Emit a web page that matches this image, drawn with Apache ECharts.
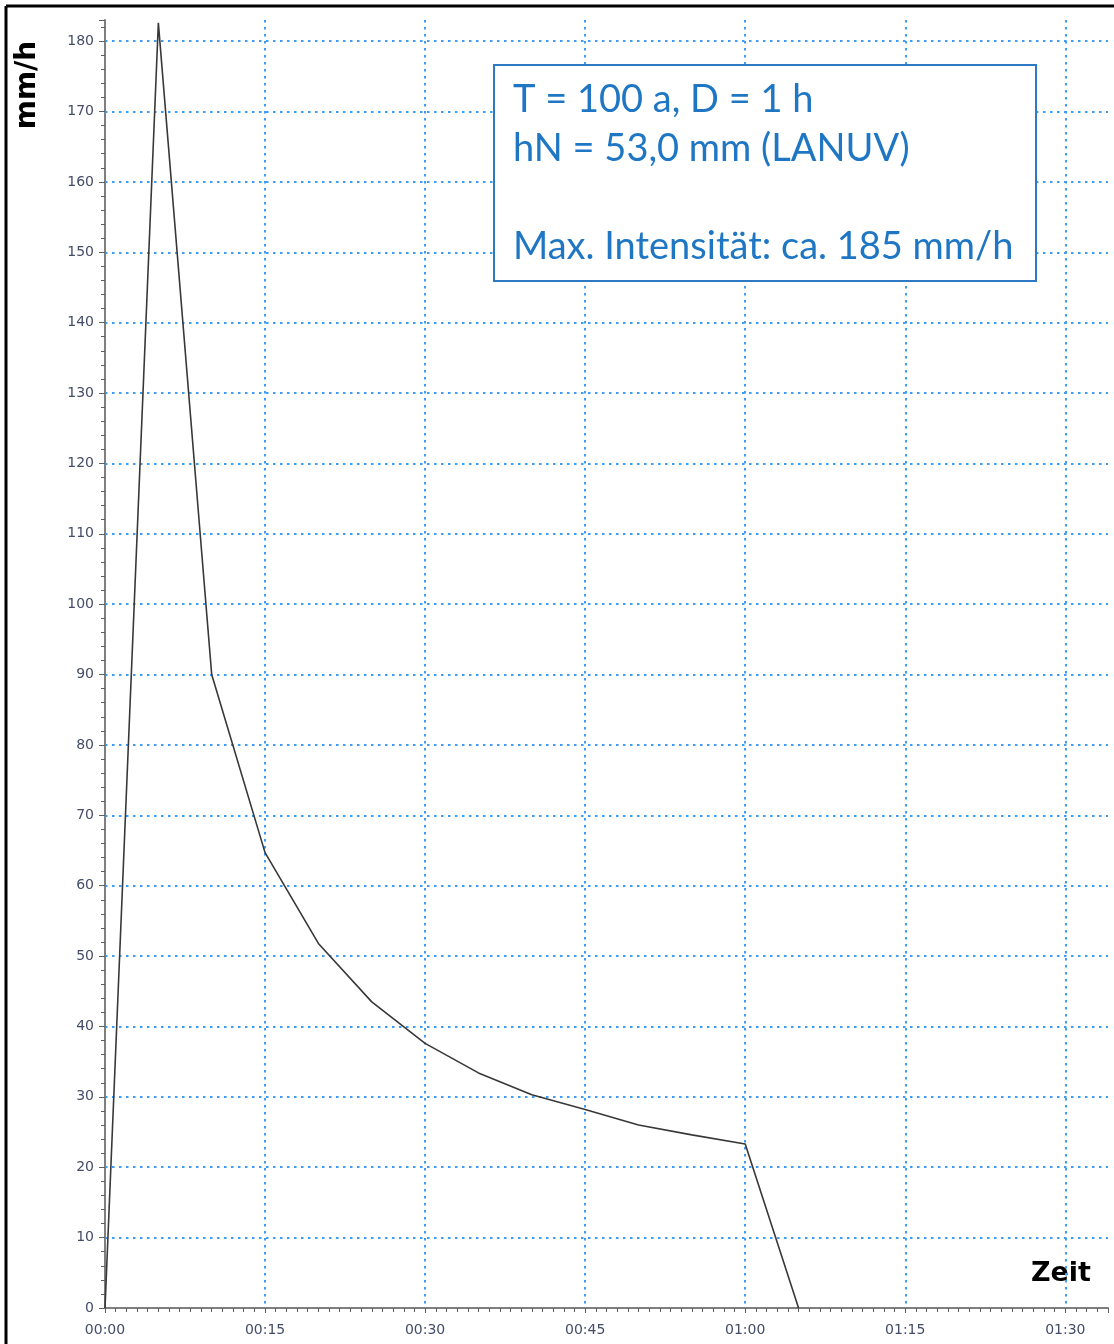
<!DOCTYPE html>
<html>
<head>
<meta charset="utf-8">
<script src="https://cdn.jsdelivr.net/npm/echarts@6/dist/echarts.min.js"></script>
<style>
html,body{margin:0;padding:0;background:#fff;}
#chart{width:1114px;height:1344px;}
</style>
</head>
<body>
<div id="chart"></div>
<script>
// Time in minutes since start
var timeMinutes = [0, 5, 10, 15, 20, 25, 30, 35, 40, 45, 50, 55, 60, 65];
// Rain intensity in mm/h
var intensity = [0, 182.6, 90, 64.7, 51.8, 43.5, 37.6, 33.4, 30.3, 28.2, 26.0, 24.6, 23.3, 0];
var annotationLines = ['T = 100 a, D = 1 h', 'hN = 53,0 mm (LANUV)', '', 'Max. Intensität: ca. 185 mm/h'];
var yAxisName = 'mm/h';
var xAxisName = 'Zeit';

function fmtTime(v) {
  var h = Math.floor(v / 60), m = Math.round(v % 60);
  return (h < 10 ? '0' : '') + h + ':' + (m < 10 ? '0' : '') + m;
}

var data = timeMinutes.map(function (t, i) { return [t, intensity[i]]; });
var gridColor = '#3d9cf5';
var labelColor = '#434d68';

var chart = echarts.init(document.getElementById('chart'), null, {renderer: 'canvas'});
chart.setOption({
  backgroundColor: '#ffffff',
  animation: false,
  grid: {left: 105, right: 6, top: 20, bottom: 36, containLabel: false},
  xAxis: {
    type: 'value', min: 0, max: 94, interval: 15,
    axisLine: {show: true, onZero: false, lineStyle: {color: '#7f7f7f', width: 2}},
    axisTick: {show: true, length: 5, lineStyle: {color: '#606060', width: 1}},
    minorTick: {show: true, splitNumber: 15, length: 4, lineStyle: {color: '#606060', width: 1}},
    axisLabel: {formatter: fmtTime, color: labelColor, fontFamily: 'DejaVu Sans', fontSize: 14, margin: 15, showMaxLabel: false},
    splitLine: {show: true, showMinLine: false, showMaxLine: false, lineStyle: {color: gridColor, width: 2, type: [2.5, 4.5]}}
  },
  yAxis: {
    type: 'value', min: 0, max: 183, interval: 10,
    axisLine: {show: true, onZero: false, lineStyle: {color: '#7f7f7f', width: 2}},
    axisTick: {show: true, length: 6, lineStyle: {color: '#606060', width: 1}},
    minorTick: {show: true, splitNumber: 5, length: 4, lineStyle: {color: '#606060', width: 1}},
    axisLabel: {color: labelColor, fontFamily: 'DejaVu Sans', fontSize: 14, margin: 11, showMaxLabel: false},
    splitLine: {show: true, showMinLine: false, showMaxLine: false, lineStyle: {color: gridColor, width: 2, type: [2.5, 4.5]}}
  },
  series: [{
    type: 'line', data: data, showSymbol: false, symbol: 'none',
    lineStyle: {color: '#383838', width: 1.6}, z: 5
  }],
  graphic: [
    {type: 'line', shape: {x1: 6, y1: 6, x2: 1114, y2: 6}, style: {stroke: '#000', lineWidth: 3}},
    {type: 'line', shape: {x1: 6, y1: 6, x2: 6, y2: 1344}, style: {stroke: '#000', lineWidth: 3}},
    {type: 'text', x: 28, y: 85, rotation: Math.PI / 2,
      style: {text: yAxisName, font: 'bold 28px "DejaVu Sans"', fill: '#000', align: 'center', verticalAlign: 'middle'}},
    {type: 'text', x: 1061, y: 1274,
      style: {text: xAxisName, font: 'bold 27px "DejaVu Sans"', fill: '#000', align: 'center', verticalAlign: 'middle'}},
    {type: 'rect', shape: {x: 494, y: 65, width: 542, height: 216}, z: 10,
      style: {fill: '#ffffff', stroke: '#2e79c4', lineWidth: 2}},
    {type: 'text', x: 513, y: 75.5, z: 11,
      style: {text: annotationLines.join('\n'), font: '38px Lato', lineHeight: 49, fill: '#1f77c4', align: 'left', verticalAlign: 'top'}}
  ]
});
</script>
</body>
</html>
